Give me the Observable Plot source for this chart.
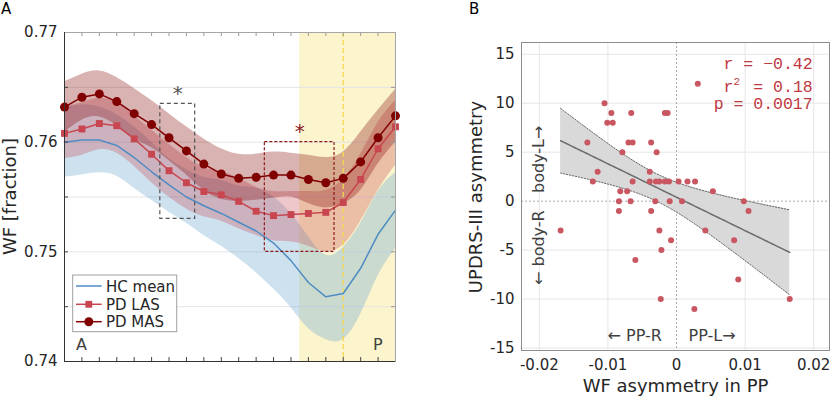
<!DOCTYPE html>
<html><head><meta charset="utf-8">
<script src="https://cdn.jsdelivr.net/npm/d3@7"></script>
<script src="https://cdn.jsdelivr.net/npm/@observablehq/plot@0.6"></script>
<style>
html,body{margin:0;padding:0;background:#fff;}
#wrap{position:relative;width:832px;height:398px;overflow:hidden;font-family:"DejaVu Sans",sans-serif;}
#wrap > svg{position:absolute;}
</style></head><body><div id="wrap"></div>
<script>
// ---------- Panel A data ----------
const pos = [1,2,3,4,5,6,7,8,9,10,11,12,13,14,15,16,17,18,19,20];
const hcMean = [0.7600,0.7602,0.7602,0.7597,0.7586,0.7573,0.7561,0.7550,0.7542,0.7535,0.7527,0.7519,0.7508,0.7492,0.7472,0.7459,0.7462,0.7485,0.7516,0.7538];
const hcHi   = [0.7632,0.7634,0.7632,0.7625,0.7614,0.7600,0.7585,0.7575,0.7568,0.7565,0.7560,0.7558,0.7550,0.7535,0.7514,0.7497,0.7504,0.7526,0.7555,0.7572];
const hcLo   = [0.7568,0.7570,0.7572,0.7569,0.7558,0.7547,0.7536,0.7526,0.7515,0.7505,0.7494,0.7481,0.7466,0.7449,0.7430,0.7420,0.7420,0.7443,0.7478,0.7503];
const lasMean = [0.7608,0.7612,0.7617,0.7615,0.7603,0.7589,0.7574,0.7563,0.7555,0.7552,0.7546,0.7537,0.7533,0.7534,0.7535,0.7536,0.7545,0.7566,0.7594,0.7614];
const lasHi   = [0.7632,0.7636,0.7640,0.7636,0.7624,0.7611,0.7598,0.7586,0.7577,0.7573,0.7567,0.7559,0.7555,0.7555,0.7555,0.7556,0.7566,0.7589,0.7618,0.7638];
const lasLo   = [0.7585,0.7588,0.7593,0.7590,0.7578,0.7563,0.7550,0.7539,0.7532,0.7528,0.7521,0.7515,0.7510,0.7509,0.7505,0.7500,0.7506,0.7528,0.7556,0.7579];
const masMean = [0.7632,0.7641,0.7644,0.7637,0.7626,0.7616,0.7604,0.7592,0.7580,0.7571,0.7567,0.7568,0.7570,0.7570,0.7566,0.7563,0.7567,0.7582,0.7604,0.7624];
const masHi   = [0.7655,0.7662,0.7665,0.7659,0.7649,0.7638,0.7626,0.7614,0.7603,0.7594,0.7589,0.7589,0.7591,0.7590,0.7588,0.7586,0.7591,0.7609,0.7629,0.7648];
const masLo   = [0.7609,0.7620,0.7623,0.7615,0.7603,0.7595,0.7583,0.7570,0.7556,0.7548,0.7546,0.7547,0.7549,0.7550,0.7544,0.7540,0.7544,0.7556,0.7580,0.7600];
const yDomA = [0.74, 0.77];
const yLabelTicksA = [0.74, 0.75, 0.76, 0.77];
const yMinorA = [0.745, 0.75, 0.755, 0.76, 0.765];
const ppRegion = [14.5, 20];
const ppLine = [17];
const boxHC = [6.5, 8.5, 0.753, 0.7635];
const boxMAS = [12.5, 16.5, 0.750, 0.760];
const starHC = [7.5, 0.7644];
const starMAS = [14.5, 0.7610];
const seriesNames = ["HC mean", "PD LAS", "PD MAS"];

// ---------- Panel B data ----------
const wfAsym = [
  0.0031,
  -0.0105,
  -0.0095, -0.0066, -0.0017, -0.0013,
  -0.0101, -0.0093,
  -0.0130, -0.0070, -0.0064, -0.0037,
  -0.0079, -0.0029,
  -0.0115, -0.0039,
  -0.0122, -0.0064, -0.0039, -0.0030, -0.0025, -0.0017, -0.0011, 0.0003, 0.0016, 0.0027,
  -0.0082, -0.0072, 0.0053,
  -0.0084, -0.0067, -0.0031, -0.0010, 0.0008, 0.0098,
  -0.0084, -0.0037, 0.0105,
  -0.0169, -0.0025, 0.0042,
  -0.0008, 0.0084,
  -0.0022,
  -0.0060,
  0.0090,
  -0.0023, 0.0165,
  0.0026
];
const updrsAsym = [
  12,
  10,
  9, 9, 9, 9,
  8, 8,
  6, 6, 6, 6,
  5, 5,
  3, 3,
  2, 2, 2, 2, 2, 2, 2, 2, 2, 2,
  1, 1, 1,
  0, 0, 0, 0, 0, 0,
  -1, -1, -1,
  -3, -3, -3,
  -4, -4,
  -5,
  -6,
  -8,
  -10, -10,
  -11
];
const xDomB = [-0.0226, 0.0223];
const yDomB = [-15.25, 16.2];
const xTicksB = [-0.02, -0.01, 0, 0.01, 0.02];
const yTicksB = [-15, -10, -5, 0, 5, 10, 15];
const statLines = [["r", "−0.42"], ["r2", "0.18"], ["p", "0.0017"]];

// ---------- build rows ----------
const rows = (m, lo, hi) => pos.map((k, i) => ({k, m: m[i], lo: lo[i], hi: hi[i]}));
const rHC = rows(hcMean, hcLo, hcHi), rLAS = rows(lasMean, lasLo, lasHi), rMAS = rows(masMean, masLo, masHi);

const cHC = "#4f8cc3", cLAS = "#c8464f", cMAS = "#800000";
const font = "DejaVu Sans";

// Panel A
const mA = {top: 32, right: 25, bottom: 37, left: 64}, WA = 420, H = 398;
const tlY = (yDomA[1] - yDomA[0]) * 4 / (H - mA.top - mA.bottom);
const tlX = (pos[pos.length-1] - pos[0]) * 4 / (WA - mA.left - mA.right);
const innerX = pos.slice(1, -1);
const fmtA = d3.format(".2f");

const plotA = Plot.plot({
  width: WA, height: H,
  marginTop: mA.top, marginRight: mA.right, marginBottom: mA.bottom, marginLeft: mA.left,
  x: {domain: [pos[0], pos[pos.length-1]], axis: null},
  y: {domain: yDomA, ticks: yLabelTicksA, tickFormat: fmtA, tickSize: 0, tickPadding: 7, label: null},
  style: {fontFamily: font, fontSize: "15px", color: "#262626", background: "transparent", overflow: "visible"},
  marks: [
    Plot.rect([ppRegion], {x1: d => d[0], x2: d => d[1], y1: yDomA[0], y2: yDomA[1], fill: "#fbf4cc"}),
    Plot.ruleY(yMinorA, {stroke: "#e4e4e4", strokeWidth: 1}),
    Plot.areaY(rHC, {x: "k", y1: "lo", y2: "hi", fill: "rgb(115,170,210)", fillOpacity: 0.35, curve: "natural"}),
    Plot.areaY(rLAS, {x: "k", y1: "lo", y2: "hi", fill: cLAS, fillOpacity: 0.3, curve: "natural"}),
    Plot.areaY(rMAS, {x: "k", y1: "lo", y2: "hi", fill: cMAS, fillOpacity: 0.3, curve: "natural"}),
    Plot.ruleX(ppLine, {stroke: "#f2d94e", strokeWidth: 1.3, strokeDasharray: "5,3"}),
    Plot.line(rHC, {x: "k", y: "m", stroke: cHC, strokeWidth: 1.5}),
    Plot.line(rLAS, {x: "k", y: "m", stroke: cLAS, strokeWidth: 1.5}),
    Plot.dot(rLAS, {x: "k", y: "m", symbol: "square", r: 3.9, fill: cLAS}),
    Plot.line(rMAS, {x: "k", y: "m", stroke: cMAS, strokeWidth: 1.5}),
    Plot.dot(rMAS, {x: "k", y: "m", symbol: "circle", r: 4.5, fill: cMAS}),
    Plot.rect([boxHC], {x1: d => d[0], x2: d => d[1], y1: d => d[2], y2: d => d[3], fill: "none", stroke: "#555", strokeWidth: 1.2, strokeDasharray: "4,3"}),
    Plot.rect([boxMAS], {x1: d => d[0], x2: d => d[1], y1: d => d[2], y2: d => d[3], fill: "none", stroke: "#8b1a1a", strokeWidth: 1.2, strokeDasharray: "3,2"}),
    Plot.text([starHC], {x: d => d[0], y: d => d[1], text: () => "*", fill: "#555", fontSize: 20}),
    Plot.text([starMAS], {x: d => d[0], y: d => d[1], text: () => "*", fill: "#8b1a1a", fontSize: 20}),
    // inward ticks
    Plot.ruleX(innerX, {x: d => d, y1: yDomA[0], y2: yDomA[0] + tlY, stroke: "#444"}),
    Plot.ruleX(innerX, {x: d => d, y1: yDomA[1] - tlY, y2: yDomA[1], stroke: "#999"}),
    Plot.ruleY(yMinorA, {y: d => d, x1: pos[0], x2: pos[0] + tlX, stroke: "#444"}),
    Plot.ruleY(yMinorA, {y: d => d, x1: pos[pos.length-1] - tlX, x2: pos[pos.length-1], stroke: "#999"}),
    Plot.frame({stroke: "#a6a6a6"}),
    Plot.ruleX([pos[0]], {stroke: "#333"}),
    Plot.ruleY([yDomA[0]], {stroke: "#333"})
  ]
});

// Panel B: linear fit with 95% confidence band
const n = wfAsym.length;
const mx = d3.mean(wfAsym), my = d3.mean(updrsAsym);
let sxx = 0, sxy = 0;
for (let i = 0; i < n; i++) { sxx += (wfAsym[i]-mx)**2; sxy += (wfAsym[i]-mx)*(updrsAsym[i]-my); }
const slope = sxy / sxx, icpt = my - slope * mx;
let sse = 0;
for (let i = 0; i < n; i++) sse += (updrsAsym[i] - icpt - slope*wfAsym[i])**2;
const sRes = Math.sqrt(sse / (n - 2));
const tCrit = 2.012; // Student t, 97.5%, df = 47
const [xmin, xmax] = d3.extent(wfAsym);
const fit = d3.range(0, 81).map(j => {
  const x = xmin + (xmax - xmin) * j / 80;
  const yh = icpt + slope * x;
  const se = sRes * Math.sqrt(1/n + (x - mx)**2 / sxx);
  return {x, yh, lo: yh - tCrit*se, hi: yh + tCrit*se};
});
const pts = wfAsym.map((x, i) => ({x, y: updrsAsym[i]}));
const hyph = s => s.replace("−", "-");
const fmtBx = d => d === 0 ? "0" : hyph(d3.format(".2f")(d));
const fmtBy = d => hyph(d3.format("d")(d));

const WB = 412;
const plotB = Plot.plot({
  width: WB, height: H,
  marginTop: 42, marginRight: 3, marginBottom: 48, marginLeft: 101,
  x: {domain: xDomB, ticks: xTicksB, tickFormat: fmtBx, tickSize: 0, tickPadding: 9, label: null},
  y: {domain: yDomB, ticks: yTicksB, tickFormat: fmtBy, tickSize: 0, tickPadding: 7, label: null},
  style: {fontFamily: font, fontSize: "15px", color: "#262626", background: "transparent", overflow: "visible"},
  marks: [
    Plot.ruleX(xTicksB.filter(d => d !== 0), {stroke: "#e6e6e6"}),
    Plot.ruleY(yTicksB.filter(d => d !== 0), {stroke: "#e6e6e6"}),
    Plot.ruleX([0], {stroke: "#aaa", strokeDasharray: "2,2"}),
    Plot.ruleY([0], {stroke: "#aaa", strokeDasharray: "2,2"}),
    Plot.areaY(fit, {x: "x", y1: "lo", y2: "hi", fill: "#d9d9d9"}),
    Plot.line(fit, {x: "x", y: "lo", stroke: "#666", strokeWidth: 1, strokeDasharray: "1.5,1.5"}),
    Plot.line(fit, {x: "x", y: "hi", stroke: "#666", strokeWidth: 1, strokeDasharray: "1.5,1.5"}),
    Plot.line(fit, {x: "x", y: "yh", stroke: "#6b6b6b", strokeWidth: 1.5}),
    Plot.dot(pts, {x: "x", y: "y", r: 3, fill: "#c95761"}),
    Plot.frame({stroke: "#8c8c8c"})
  ]
});

const wrap = document.getElementById("wrap");
plotA.style.left = "0px"; plotA.style.top = "0px";
plotB.style.left = WA + "px"; plotB.style.top = "0px";
wrap.appendChild(plotA);
wrap.appendChild(plotB);

// ---------- Overlay text / legend ----------
const ov = d3.select(wrap).append("svg")
  .attr("width", 832).attr("height", 398)
  .style("position", "absolute").style("left", "0px").style("top", "0px")
  .style("font-family", font);

ov.append("text").attr("x", 1).attr("y", 14).attr("font-size", 15).attr("fill", "#000").text("A");
ov.append("text").attr("x", 469).attr("y", 14).attr("font-size", 15).attr("fill", "#000").text("B");

ov.append("text").attr("transform", "translate(9,196.5) rotate(-90)").attr("text-anchor", "middle")
  .attr("dominant-baseline", "central").attr("font-size", 18).attr("fill", "#262626").text("WF [fraction]");
ov.append("text").attr("transform", "translate(475,197) rotate(-90)").attr("text-anchor", "middle")
  .attr("dominant-baseline", "central").attr("font-size", 18).attr("fill", "#262626").text("UPDRS-III asymmetry");
ov.append("text").attr("x", 675.5).attr("y", 392).attr("text-anchor", "middle")
  .attr("font-size", 18).attr("fill", "#262626").text("WF asymmetry in PP");

// anterior / posterior
ov.append("text").attr("x", 76).attr("y", 350).attr("font-size", 16).attr("fill", "#404040").text("A");
ov.append("text").attr("x", 373).attr("y", 350).attr("font-size", 16).attr("fill", "#404040").text("P");

// side labels panel B
ov.append("text").attr("x", 607.5).attr("y", 341).attr("font-size", 16).attr("fill", "#404040").text("← PP-R");
ov.append("text").attr("x", 688.5).attr("y", 341).attr("font-size", 16).attr("fill", "#404040").text("PP-L→");
ov.append("text").attr("transform", "translate(538,285) rotate(-90)").attr("dominant-baseline", "central")
  .attr("font-size", 16).attr("fill", "#404040").text("←  body-R");
ov.append("text").attr("transform", "translate(538,193) rotate(-90)").attr("dominant-baseline", "central")
  .attr("font-size", 16).attr("fill", "#404040").text("body-L→");

// stats
const statG = ov.append("g").attr("font-family", "Liberation Mono, monospace").attr("font-size", 16.5)
  .attr("fill", "#c0393f").attr("text-anchor", "end");
const statY = [69, 91.7, 109];
statLines.forEach(([k, v], i) => {
  const t = statG.append("text").attr("x", 812.7).attr("y", statY[i]);
  if (k === "r2") {
    t.append("tspan").text("r");
    t.append("tspan").attr("font-size", 11).attr("dy", -7).text("2");
    t.append("tspan").attr("dy", 7).attr("dx", 3.3).text(" = " + v);
  } else {
    t.text(k + " = " + v);
  }
});

// legend
const lg = ov.append("g");
lg.append("rect").attr("x", 72.7).attr("y", 275).attr("width", 104).attr("height", 56.7)
  .attr("fill", "#fff").attr("stroke", "#a0a0a0");
const legRows = [[286, cHC, null], [304.3, cLAS, "square"], [321.7, cMAS, "circle"]];
legRows.forEach(([y, c, sym], i) => {
  lg.append("line").attr("x1", 76).attr("x2", 101.7).attr("y1", y).attr("y2", y).attr("stroke", c).attr("stroke-width", 1.5);
  if (sym === "square") lg.append("rect").attr("x", 88.8 - 3.4).attr("y", y - 3.4).attr("width", 6.8).attr("height", 6.8).attr("fill", c);
  if (sym === "circle") lg.append("circle").attr("cx", 88.8).attr("cy", y).attr("r", 4.5).attr("fill", c);
  lg.append("text").attr("x", 106).attr("y", y + 5.5).attr("font-size", 15).attr("fill", "#262626").text(seriesNames[i]);
});
</script></body></html>
